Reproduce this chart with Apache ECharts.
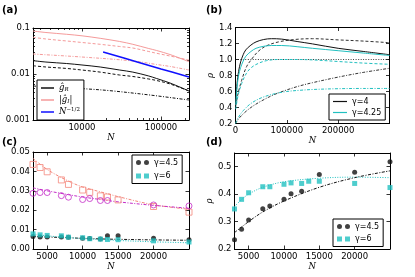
<!DOCTYPE html>
<html><head><meta charset="utf-8">
<script src="https://cdn.jsdelivr.net/npm/echarts@6/dist/echarts.min.js"></script>
<style>html,body{margin:0;padding:0;background:#fff}#c{width:415px;height:277px}</style>
</head><body><div id="c"></div><script>
// ---------- Panel (a): couplings vs N (log-log) ----------
const aN = [2400, 3500, 6400, 10000, 17000, 30000, 44000, 70000, 88000, 130000, 226000];
const aImagSolid = [0.086, 0.0798, 0.073, 0.0676, 0.0597, 0.0509, 0.0442, 0.0358, 0.0324, 0.0265, 0.0185];
const aImagDashed = [0.0628, 0.0577, 0.0522, 0.0484, 0.0442, 0.0396, 0.0367, 0.0308, 0.0282, 0.0246, 0.0201];
const aRealSolid = [0.0195, 0.0182, 0.0169, 0.0157, 0.0142, 0.0122, 0.0110, 0.00905, 0.00798, 0.00637, 0.00427];
const aRealDashed = [0.0151, 0.0142, 0.0132, 0.0122, 0.0110, 0.0095, 0.00883, 0.00778, 0.00722, 0.00607, 0.00427];
const aNdd1 = [2400, 10000, 44000, 88000, 130000, 226000];
const aImagDashDot = [0.0272, 0.0234, 0.0192, 0.0161, 0.0146, 0.0122];
const aNdd2 = [2400, 5750, 11900, 22600, 72600, 226000];
const aRealDashDot = [0.00548, 0.00504, 0.00472, 0.00434, 0.00349, 0.00272];
const aNref = [18500, 50000, 100000, 226000];
const aRef = [0.030, 0.0183, 0.0129, 0.0086];
const aXTicks = [10000, 100000];
const aXMinor = [3000,4000,5000,6000,7000,8000,9000,20000,30000,40000,50000,60000,70000,80000,90000,200000];
const aYTicks = [0.001, 0.01, 0.1];
const aYMinor = [0.002,0.003,0.004,0.005,0.006,0.007,0.008,0.009,0.02,0.03,0.04,0.05,0.06,0.07,0.08,0.09];

// ---------- Panel (b): rho vs N ----------
const bN = [500, 3000, 6000, 10000, 15000, 20000, 30000, 40000, 55000, 70000, 90000, 120000, 150000, 200000, 250000, 300000];
const b4Solid = [0.45, 0.7, 0.85, 0.97, 1.06, 1.12, 1.18, 1.22, 1.25, 1.26, 1.255, 1.225, 1.195, 1.14, 1.1, 1.06];
const b425Solid = [0.43, 0.65, 0.8, 0.9, 0.98, 1.04, 1.1, 1.14, 1.165, 1.175, 1.175, 1.16, 1.14, 1.11, 1.08, 1.05];
const bNd = [500, 5000, 12000, 21500, 31000, 44000, 60000, 84000, 115000, 150000, 200000, 250000, 300000];
const b4Dashed = [0.42, 0.575, 0.74, 0.91, 1.0, 1.1, 1.17, 1.22, 1.25, 1.26, 1.245, 1.23, 1.21];
const b425Dashed = [0.38, 0.55, 0.7, 0.83, 0.9, 0.95, 0.985, 1.0, 1.0, 0.995, 0.975, 0.955, 0.94];
const bNl = [0, 5000, 15000, 30000, 50000, 75000, 100000, 125000, 150000, 200000, 250000, 300000];
const b4Low = [0.2, 0.25, 0.32, 0.4, 0.48, 0.56, 0.62, 0.67, 0.71, 0.78, 0.84, 0.89];
const b425Low = [0.2, 0.27, 0.36, 0.45, 0.52, 0.57, 0.6, 0.615, 0.625, 0.635, 0.638, 0.638];
const bRefN = [0, 300000];
const bRef = [1.0, 1.0];
const bXTicks = [0, 100000, 200000];
const bYTicks = [0.2, 0.4, 0.6, 0.8, 1.0, 1.2, 1.4];

// ---------- Panel (c): couplings at small N ----------
const cN = [3000, 4000, 5000, 7000, 8000, 10000, 11000, 12500, 13500, 15000, 20000, 25000];
const cImag = [0.0436, 0.0420, 0.0398, 0.0356, 0.0333, 0.0304, 0.0292, 0.0274, 0.0268, 0.0253, 0.0219, 0.0190];
const cNm = [3000, 4000, 5000, 7000, 8000, 10000, 11000, 12500, 13500, 20000, 25000];
const cMag = [0.0287, 0.0291, 0.0291, 0.0275, 0.0267, 0.0255, 0.026, 0.025, 0.025, 0.0227, 0.0222];
const cBlack = [0.0065, 0.0062, 0.0062, 0.0062, 0.006, 0.0056, 0.0054, 0.0051, 0.0068, 0.0068, 0.0056, 0.0048];
const cCyan = [0.0078, 0.0073, 0.007, 0.0068, 0.0061, 0.0058, 0.0053, 0.0051, 0.0049, 0.0048, 0.0042, 0.0036];
const cFitN = [3000, 5000, 8000, 10000, 13500, 15000, 20000, 25000];
const cFitImag = [0.0467, 0.041, 0.035, 0.032, 0.0285, 0.027, 0.0228, 0.0205];
const cFitMag = [0.0315, 0.030, 0.028, 0.0268, 0.025, 0.0243, 0.0225, 0.021];
const cFitBlack = [0.0066, 0.0062, 0.0058, 0.0055, 0.0051, 0.005, 0.0047, 0.0045];
const cFitCyan = [0.0078, 0.0068, 0.0059, 0.0054, 0.0047, 0.0044, 0.0037, 0.0032];
const cXTicks = [5000, 10000, 15000, 20000];
const cYTicks = [0, 0.01, 0.02, 0.03, 0.04, 0.05];

// ---------- Panel (d): rho at small N ----------
const dN = [3000, 4000, 5000, 7000, 8000, 10000, 11000, 12500, 13500, 15000, 20000, 25000];
const dCyan = [0.346, 0.381, 0.405, 0.427, 0.427, 0.436, 0.441, 0.439, 0.447, 0.447, 0.439, 0.424];
const dBlackN = [3000, 4000, 5000, 7000, 8000, 10000, 11000, 12500, 15000, 20000, 25000];
const dBlack = [0.234, 0.272, 0.306, 0.347, 0.357, 0.381, 0.401, 0.411, 0.472, 0.480, 0.518];
const dFitN = [3000, 4000, 5000, 7000, 10000, 15000, 20000, 25000];
const dFitCyan = [0.355, 0.38, 0.4, 0.425, 0.445, 0.458, 0.462, 0.46];
const dFitBlack = [0.26, 0.28, 0.3, 0.335, 0.375, 0.425, 0.46, 0.485];
const dXTicks = [5000, 10000, 15000, 20000];
const dYTicks = [0.2, 0.3, 0.4, 0.5];

// ---------- styles ----------
const BLACK = '#111', PINK = '#f59a9a', BLUE = '#1010ff', CYAN = '#22c0c0', MAG = '#c42cc8', SALMON = '#f4877c';
const DASH = [3, 2], DASHDOT = [3, 1.5, 1, 1.5], DOT = [1, 1.5];
const LBL = {fontFamily: 'DejaVu Sans', fontSize: 8.5, color: '#000'};
const NAME = {fontFamily: 'DejaVu Serif', fontStyle: 'italic', fontSize: 8.5, color: '#000'};

const grids = [], xAxis = [], yAxis = [], series = [];
function axis(gi, c, pos, ticks, showLabel, len, showLine) {
  return {
    type: c.type, gridIndex: gi, position: pos, min: c.min, max: c.max, logBase: 10,
    axisLine: {show: showLine, onZero: false, lineStyle: {color: '#000', width: 1}},
    axisTick: {show: true, inside: true, length: len, customValues: ticks, lineStyle: {color: '#000', width: 0.8}},
    axisLabel: Object.assign({show: showLabel, customValues: ticks, formatter: c.fmt, margin: 3}, LBL),
    splitLine: {show: false}, minorTick: {show: false},
    name: showLabel && c.name ? c.name : '', nameLocation: 'middle', nameGap: c.gap || 10,
    nameTextStyle: NAME, silent: true
  };
}
function panel(g, cx, cy, xt, yt, xm, ym) {
  grids.push(Object.assign({containLabel: false}, g));
  const gi = grids.length - 1;
  const xi = xAxis.length, yi = yAxis.length;
  xAxis.push(axis(gi, cx, 'bottom', xt, true, 3.5, true));
  xAxis.push(axis(gi, cx, 'top', xt, false, 3.5, true));
  yAxis.push(axis(gi, cy, 'left', yt, true, 3.5, true));
  yAxis.push(axis(gi, cy, 'right', yt, false, 3.5, true));
  if (xm) {
    xAxis.push(axis(gi, cx, 'bottom', xm, false, 2, false));
    xAxis.push(axis(gi, cx, 'top', xm, false, 2, false));
  }
  if (ym) {
    yAxis.push(axis(gi, cy, 'left', ym, false, 2, false));
    yAxis.push(axis(gi, cy, 'right', ym, false, 2, false));
  }
  return [xi, yi];
}
function line(name, ax, xs, ys, color, type, width) {
  series.push({type: 'line', name, xAxisIndex: ax[0], yAxisIndex: ax[1],
    data: xs.map((x, i) => [x, ys[i]]), showSymbol: false, symbol: 'none', smooth: 0.35,
    lineStyle: {color, width: width || 1, type: type || 'solid'}, itemStyle: {color}, animation: false, silent: true});
}
function scatter(name, ax, xs, ys, symbol, size, color, hollow) {
  series.push({type: 'scatter', name, xAxisIndex: ax[0], yAxisIndex: ax[1],
    data: xs.map((x, i) => [x, ys[i]]), symbol, symbolSize: size,
    itemStyle: hollow ? {color: 'rgba(255,255,255,0)', borderColor: color, borderWidth: 1} : {color},
    animation: false, silent: true, clip: false, z: 3});
}

const logFmt = v => String(parseFloat(Number(v).toPrecision(3)));
const A = panel({left: 33, top: 28, width: 156, height: 92},
  {type: 'log', min: 2400, max: 226000, fmt: logFmt, name: 'N', gap: 13},
  {type: 'log', min: 0.001, max: 0.1, fmt: logFmt}, aXTicks, aYTicks, aXMinor, aYMinor);
const B = panel({left: 235.5, top: 27.5, width: 154, height: 96},
  {type: 'value', min: 0, max: 300000, fmt: v => String(v), name: 'N', gap: 11},
  {type: 'value', min: 0.2, max: 1.4, fmt: v => v.toFixed(1), name: 'ρ', gap: 17}, bXTicks, bYTicks);
const C = panel({left: 33, top: 152, width: 156, height: 97},
  {type: 'value', min: 3000, max: 25000, fmt: v => String(v), name: 'N', gap: 10},
  {type: 'value', min: 0, max: 0.05, fmt: v => v.toFixed(2)}, cXTicks, cYTicks);
const D = panel({left: 234.5, top: 153, width: 155.5, height: 96},
  {type: 'value', min: 3000, max: 25000, fmt: v => String(v), name: 'N', gap: 10},
  {type: 'value', min: 0.2, max: 0.55, fmt: v => v.toFixed(1), name: 'ρ', gap: 17}, dXTicks, dYTicks);

// (a)
line('aImagDash', A, aN, aImagDashed, PINK, DASH);
line('aImagDD', A, aNdd1, aImagDashDot, PINK, DASHDOT);
line('gI', A, aN, aImagSolid, PINK, 'solid');
line('aRealDash', A, aN, aRealDashed, BLACK, DASH);
line('aRealDD', A, aNdd2, aRealDashDot, BLACK, DASHDOT);
line('gR', A, aN, aRealSolid, BLACK, 'solid');
line('Npow', A, aNref, aRef, BLUE, 'solid', 1.6);
// (b)
line('bRef', B, bRefN, bRef, BLACK, DOT, 0.8);
line('b4Dash', B, bNd, b4Dashed, '#333', DASH);
line('b425Dash', B, bNd, b425Dashed, CYAN, DASH);
line('b4Low', B, bNl, b4Low, '#333', DASHDOT);
line('b425Low', B, bNl, b425Low, CYAN, DASHDOT);
line('γ=4', B, bN, b4Solid, BLACK, 'solid');
line('γ=4.25', B, bN, b425Solid, CYAN, 'solid');
// (c)
line('cFitImag', C, cFitN, cFitImag, SALMON, DASHDOT);
line('cFitMag', C, cFitN, cFitMag, MAG, DASHDOT);
line('cFitBlack', C, cFitN, cFitBlack, BLACK, DASHDOT);
line('cFitCyan', C, cFitN, cFitCyan, CYAN, DOT);
scatter('cImag', C, cN, cImag, 'rect', 6, SALMON, true);
scatter('cMag', C, cNm, cMag, 'circle', 6, MAG, true);
scatter('γ=4.5', C, cN, cBlack, 'circle', 5, BLACK);
scatter('γ=6', C, cN, cCyan, 'rect', 5, CYAN);
// (d)
line('dFitCyan', D, dFitN, dFitCyan, CYAN, DOT);
line('dFitBlack', D, dFitN, dFitBlack, BLACK, DASHDOT);
scatter('γ=4.5', D, dBlackN, dBlack, 'circle', 5, BLACK);
scatter('γ=6', D, dN, dCyan, 'rect', 5, CYAN);

const TWO_DOTS = 'path://M0,2.5A2.5,2.5,0,1,1,5,2.5A2.5,2.5,0,1,1,0,2.5ZM8,2.5A2.5,2.5,0,1,1,13,2.5A2.5,2.5,0,1,1,8,2.5Z';
const TWO_SQ = 'path://M0,0H5V5H0ZM8,0H13V5H8Z';
const legBase = {orient: 'vertical', backgroundColor: '#fff', borderColor: '#000', borderWidth: 1, borderRadius: 0,
  selectedMode: false, textStyle: {fontFamily: 'DejaVu Sans', fontSize: 8, color: '#000', lineHeight: 9}};
const richA = {
  it: {fontFamily: 'DejaVu Serif', fontStyle: 'italic', fontSize: 8.5, lineHeight: 10},
  n: {fontFamily: 'DejaVu Serif', fontSize: 8.5, lineHeight: 10},
  sub: {fontFamily: 'DejaVu Serif', fontStyle: 'italic', fontSize: 5.5, verticalAlign: 'bottom', lineHeight: 10},
  sup: {fontFamily: 'DejaVu Serif', fontSize: 5.5, verticalAlign: 'top', lineHeight: 10}
};
const legNames = {gR: '{it|ĝ}{sub|R}', gI: '{n||}{it|ĝ}{sub|I}{n||}', Npow: '{it|N}{sup|−1/2}'};
const legend = [
  Object.assign({}, legBase, {left: 37, top: 80, data: ['gR', 'gI', 'Npow'], icon: 'rect', itemWidth: 13, itemHeight: 1.5,
    itemGap: 2, padding: [3, 4, 3, 4], formatter: n => legNames[n],
    textStyle: {color: '#000', fontSize: 8.5, lineHeight: 10, rich: richA}}),
  Object.assign({}, legBase, {left: 329, top: 94, data: ['γ=4', 'γ=4.25'], icon: 'rect', itemWidth: 14, itemHeight: 1.2,
    itemGap: 2, padding: [3, 4, 3, 4]}),
  Object.assign({}, legBase, {left: 132, top: 155, data: [{name: 'γ=4.5', icon: TWO_DOTS}, {name: 'γ=6', icon: TWO_SQ}],
    itemWidth: 13, itemHeight: 5, itemGap: 4.5, padding: [3, 4, 3, 4]}),
  Object.assign({}, legBase, {left: 333, top: 219, data: [{name: 'γ=4.5', icon: TWO_DOTS}, {name: 'γ=6', icon: TWO_SQ}],
    itemWidth: 13, itemHeight: 5, itemGap: 3.5, padding: [3, 4, 3, 4]})
];
legend[2].legendIndexHack = 0;

const PL = {fontFamily: 'DejaVu Sans', fontWeight: 'bold', fontSize: 10, fill: '#000'};
const graphic = [
  {type: 'text', left: 2, top: 5, style: Object.assign({text: '(a)'}, PL)},
  {type: 'text', left: 206, top: 5, style: Object.assign({text: '(b)'}, PL)},
  {type: 'text', left: 2, top: 137, style: Object.assign({text: '(c)'}, PL)},
  {type: 'text', left: 206, top: 137, style: Object.assign({text: '(d)'}, PL)}
];

const chart = echarts.init(document.getElementById('c'), null, {renderer: 'canvas'});
chart.setOption({animation: false, backgroundColor: '#fff', grid: grids, xAxis, yAxis, series, legend, graphic});
</script></body></html>
